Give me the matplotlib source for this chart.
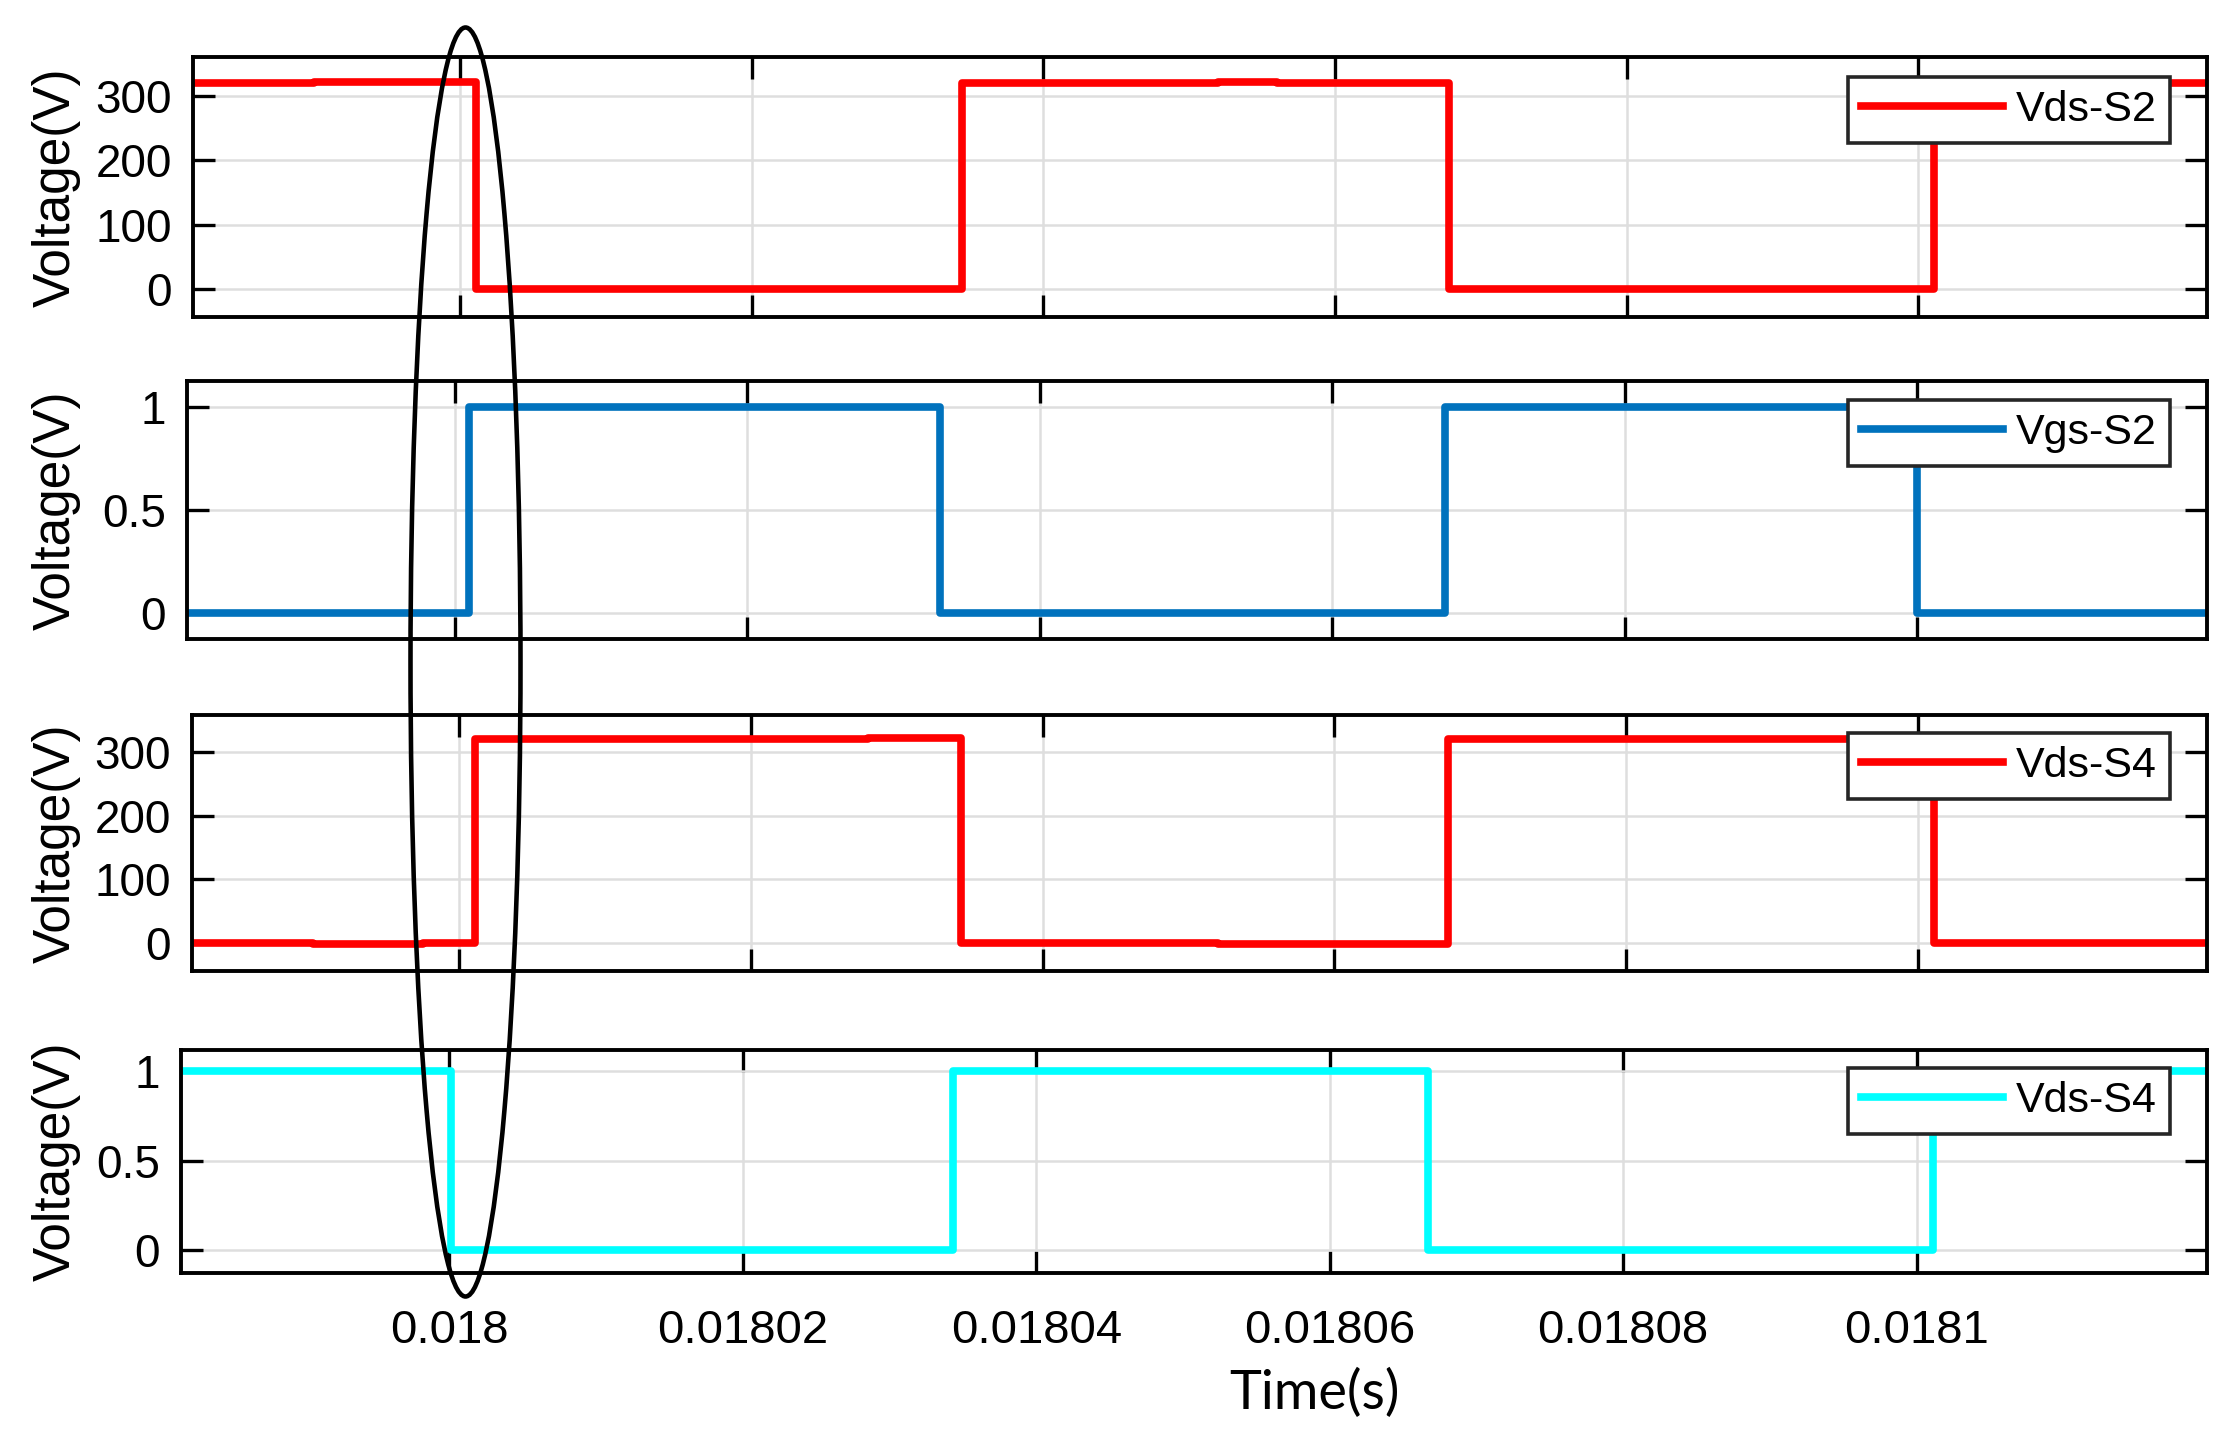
import matplotlib
matplotlib.use('Agg')
import matplotlib.pyplot as plt
from matplotlib.patches import Ellipse

# time axis
t_start, t_end = 0.0179817, 0.0181198
x_ticks = [0.018, 0.01802, 0.01804, 0.01806, 0.01808, 0.0181]
x_tick_labels = ['0.018', '0.01802', '0.01804', '0.01806', '0.01808', '0.0181']

# Vds-S2 (red, top)
vds_s2_t = [0.0179817, 0.017990, 0.0179985, 0.0180011, 0.018012, 0.018026,
            0.0180344, 0.018052, 0.018056, 0.0180678, 0.018084, 0.0181011, 0.0181198]
vds_s2_v = [320, 322, 321, 0, 1, 0, 320, 322, 320, 0, 1, 320, 320]

# Vgs-S2 (blue)
vgs_s2_t = [0.0179817, 0.0180010, 0.0180332, 0.0180677, 0.0181000, 0.0181198]
vgs_s2_v = [0, 1, 0, 1, 0, 0]

# Vds-S4 (red, third)
vds_s4_t = [0.0179817, 0.017990, 0.0179975, 0.0180011, 0.018028,
            0.0180344, 0.018052, 0.0180678, 0.018090, 0.0181011, 0.0181198]
vds_s4_v = [0, -2, 0, 320, 322, 0, -1, 320, 321, 0, 0]

# cyan trace (legend reads Vds-S4)
vgs_s4_t = [0.0179817, 0.0180001, 0.0180343, 0.0180667, 0.0181011, 0.0181198]
vgs_s4_v = [1, 0, 1, 0, 1, 1]

W, H = 2240, 1451
fig = plt.figure(figsize=(W / 100, H / 100), dpi=100)
plt.rcParams['font.family'] = 'Liberation Sans'


def add_panel(left, right, top, bottom):
    return fig.add_axes([left / W, 1 - bottom / H, (right - left) / W, (bottom - top) / H])


panels = [
    # axes box (px), data, colour, legend text, legend top px, ylim, yticks
    dict(box=(193, 2207, 57, 317), t=vds_s2_t, v=vds_s2_v, c='#ff0000', lab='Vds-S2',
         leg=77, ylim=(-43, 360), yt=[0, 100, 200, 300], ytl=['0', '100', '200', '300']),
    dict(box=(187, 2207, 381, 639), t=vgs_s2_t, v=vgs_s2_v, c='#0072bd', lab='Vgs-S2',
         leg=400, ylim=(-0.126, 1.126), yt=[0, 0.5, 1], ytl=['0', '0.5', '1']),
    dict(box=(192, 2207, 715, 971), t=vds_s4_t, v=vds_s4_v, c='#ff0000', lab='Vds-S4',
         leg=733, ylim=(-44, 358), yt=[0, 100, 200, 300], ytl=['0', '100', '200', '300']),
    dict(box=(181, 2207, 1050, 1273), t=vgs_s4_t, v=vgs_s4_v, c='#00ffff', lab='Vds-S4',
         leg=1068, ylim=(-0.128, 1.117), yt=[0, 0.5, 1], ytl=['0', '0.5', '1']),
]

for i, p in enumerate(panels):
    left, right, top, bottom = p['box']
    ax = add_panel(left, right, top, bottom)
    ax.plot(p['t'], p['v'], drawstyle='steps-post', color=p['c'], lw=5.5, label=p['lab'])
    ax.set_xlim(t_start, t_end)
    ax.set_ylim(*p['ylim'])
    ax.set_xticks(x_ticks)
    ax.set_yticks(p['yt'])
    ax.set_yticklabels(p['ytl'])
    if i == 3:
        ax.set_xticklabels(x_tick_labels)
    else:
        ax.set_xticklabels([])
    ax.grid(True, color='#dedede', lw=1.8)
    ax.tick_params(direction='in', length=16, width=2.4, top=True, right=True, pad=15)
    ax.tick_params(axis='y', labelsize=33)
    ax.tick_params(axis='x', labelsize=34, pad=26)
    for s in ax.spines.values():
        s.set_linewidth(2.8)
    ax.set_ylabel('Voltage(V)', fontsize=37)
    ax.yaxis.set_label_coords((81 - left) / (right - left), 0.5)

    leg = ax.legend(loc='upper right', bbox_to_anchor=(2170 / W, 1 - p['leg'] / H),
                    bbox_transform=fig.transFigure, borderaxespad=0, fontsize=31,
                    handlelength=3.3, handletextpad=0.3, borderpad=0.3, fancybox=False,
                    framealpha=1, edgecolor='#262626')
    leg.get_frame().set_linewidth(2.6)

fig.text(1314 / W, 1 - 1393 / H, 'Time(s)', fontsize=39, family='Lato',
         ha='center', va='center')

# highlight ellipse around the first switching instant
fig.patches.append(Ellipse((465.5 / W, 1 - 662 / H), 110 / W, 1269 / H,
                           transform=fig.transFigure, fill=False, ec='black', lw=3.3))

fig.savefig('out.png', dpi=100)
